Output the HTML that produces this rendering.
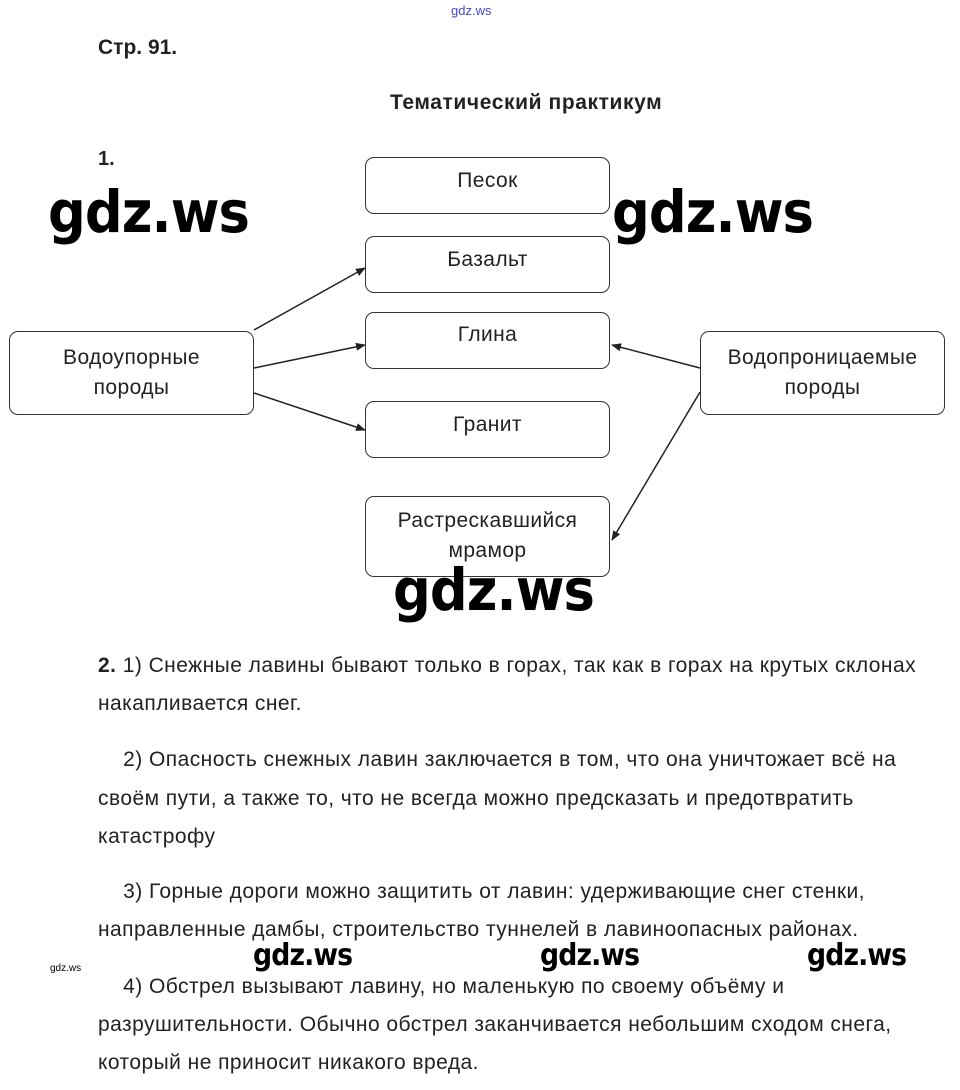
<!DOCTYPE html>
<html><head><meta charset="utf-8"><style>
body{margin:0;width:960px;height:1090px;background:#fff;position:relative;font-family:"Liberation Sans",sans-serif;color:#222;overflow:hidden}
.a{position:absolute;white-space:nowrap}
.box{position:absolute;border:1px solid #333;border-radius:9px;background:#fff;display:flex;align-items:center;justify-content:center;text-align:center;font-size:21px;letter-spacing:0.4px;line-height:30px;color:#222;box-sizing:border-box}
.t{position:absolute;left:98px;font-size:21px;letter-spacing:0.45px;color:#222;white-space:nowrap}
.wm{position:absolute;font-family:"DejaVu Sans","Liberation Sans",sans-serif;font-weight:bold;color:#000;white-space:nowrap;letter-spacing:-1px;transform-origin:0 0}
</style></head><body>
<div class="a" style="left:451px;top:3px;font-size:13px;color:#44c">gdz.ws</div>
<div class="a" style="left:98px;top:36px;font-size:21px;font-weight:bold">Стр. 91.</div>
<div class="a" style="left:390px;top:91px;font-size:21px;letter-spacing:0.6px;font-weight:bold">Тематический практикум</div>
<div class="a" style="left:98px;top:148px;font-size:20px;font-weight:bold">1.</div>

<svg style="position:absolute;left:0;top:0" width="960" height="1090">
<defs><marker id="m" markerWidth="10" markerHeight="8" refX="9" refY="4" orient="auto" markerUnits="userSpaceOnUse"><path d="M0,0 L10,4 L0,8 Z" fill="#222"/></marker></defs>
<g stroke="#222" stroke-width="1.5" marker-end="url(#m)">
<line x1="254" y1="330" x2="365" y2="268"/>
<line x1="254" y1="368" x2="365" y2="345"/>
<line x1="254" y1="393" x2="365" y2="430"/>
<line x1="700" y1="368" x2="612" y2="345"/>
<line x1="700" y1="392" x2="612" y2="540"/>
</g></svg>

<div class="box" style="left:365px;top:157px;width:245px;height:57px;align-items:flex-start;padding-top:8px">Песок</div>
<div class="box" style="left:365px;top:236px;width:245px;height:57px;align-items:flex-start;padding-top:8px">Базальт</div>
<div class="box" style="left:365px;top:312px;width:245px;height:57px;align-items:flex-start;padding-top:7px">Глина</div>
<div class="box" style="left:365px;top:401px;width:245px;height:57px;align-items:flex-start;padding-top:8px">Гранит</div>
<div class="box" style="left:365px;top:496px;width:245px;height:81px;align-items:flex-start;padding-top:9px">Растрескавшийся<br>мрамор</div>
<div class="box" style="left:9px;top:331px;width:245px;height:84px">Водоупорные<br>породы</div>
<div class="box" style="left:700px;top:331px;width:245px;height:84px">Водопроницаемые<br>породы</div>

<div class="wm" style="left:48px;top:178px;font-size:58px;transform:scaleX(0.91)">gdz.ws</div>
<div class="wm" style="left:612px;top:178px;font-size:58px;transform:scaleX(0.91)">gdz.ws</div>
<div class="wm" style="left:393px;top:556px;font-size:58px;transform:scaleX(0.91)">gdz.ws</div>

<div class="t" style="top:654px"><b>2.</b> 1) Снежные лавины бывают только в горах, так как в горах на крутых склонах</div>
<div class="t" style="top:692px">накапливается снег.</div>
<div class="t" style="top:748px">&nbsp;&nbsp;&nbsp;&nbsp;2) Опасность снежных лавин заключается в том, что она уничтожает всё на</div>
<div class="t" style="top:787px">своём пути, а также то, что не всегда можно предсказать и предотвратить</div>
<div class="t" style="top:825px">катастрофу</div>
<div class="t" style="top:880px">&nbsp;&nbsp;&nbsp;&nbsp;3) Горные дороги можно защитить от лавин: удерживающие снег стенки,</div>
<div class="t" style="top:918px">направленные дамбы, строительство туннелей в лавиноопасных районах.</div>
<div class="t" style="top:975px">&nbsp;&nbsp;&nbsp;&nbsp;4) Обстрел вызывают лавину, но маленькую по своему объёму и</div>
<div class="t" style="top:1013px">разрушительности. Обычно обстрел заканчивается небольшим сходом снега,</div>
<div class="t" style="top:1051px">который не приносит никакого вреда.</div>

<div class="a" style="left:50px;top:963px;font-size:10px;color:#000">gdz.ws</div>
<div class="wm" style="left:253px;top:938px;font-size:30px;transform:scaleX(0.89)">gdz.ws</div>
<div class="wm" style="left:540px;top:938px;font-size:30px;transform:scaleX(0.89)">gdz.ws</div>
<div class="wm" style="left:807px;top:938px;font-size:30px;transform:scaleX(0.89)">gdz.ws</div>
</body></html>
